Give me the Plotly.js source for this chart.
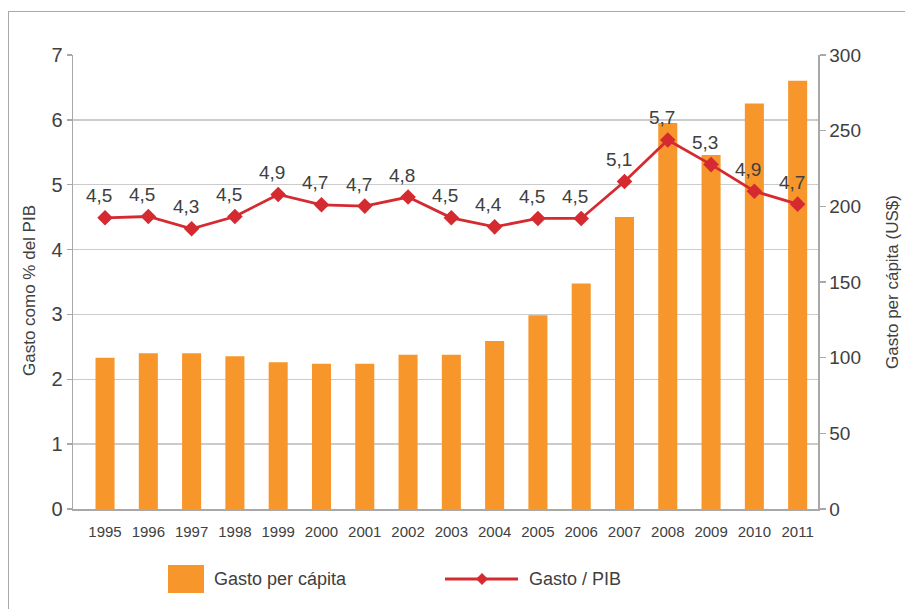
<!DOCTYPE html>
<html>
<head>
<meta charset="utf-8">
<script src="https://cdn.plot.ly/plotly-3.0.1.min.js"></script>
<style>
  html, body { margin: 0; padding: 0; background: #fff; }
  #wrap { position: relative; width: 905px; height: 609px; overflow: hidden; }
  #chart { width: 905px; height: 609px; }
  #frame { position: absolute; left: 8px; top: 11px; width: 1000px; height: 700px;
           border-left: 1.5px solid #a8a8a8; border-top: 1.5px solid #a8a8a8; pointer-events: none; }
</style>
</head>
<body>
<div id="wrap">
  <div id="chart"></div>
  <div id="frame"></div>
</div>
<script>
const years = ['1995','1996','1997','1998','1999','2000','2001','2002','2003','2004','2005','2006','2007','2008','2009','2010','2011'];
const gastoPerCapita = [100, 103, 103, 101, 97, 96, 96, 102, 102, 111, 128, 149, 193, 255, 234, 268, 283];
const gastoPIB = [4.49, 4.51, 4.32, 4.51, 4.85, 4.69, 4.67, 4.81, 4.49, 4.35, 4.48, 4.48, 5.05, 5.69, 5.31, 4.90, 4.70];
const gastoPIBLabels = ['4,5','4,5','4,3','4,5','4,9','4,7','4,7','4,8','4,5','4,4','4,5','4,5','5,1','5,7','5,3','4,9','4,7'];
const leftTicks = [0, 1, 2, 3, 4, 5, 6, 7];
const rightTicks = [0, 50, 100, 150, 200, 250, 300];
const seriesNames = ['Gasto per cápita', 'Gasto / PIB'];
const axisTitles = ['Gasto como % del PIB', 'Gasto per cápita (US$)'];

const ORANGE = '#f7962a';
const RED = '#d42a30';
const TXT = '#404040';
const FONT = 'Liberation Sans, Arial, Helvetica, sans-serif';

const W = 905, H = 609;
const M = {l: 73, r: 87, t: 55, b: 100};
const pw = W - M.l - M.r, ph = H - M.t - M.b;
const px = x => (x - M.l) / pw;
const py = y => (H - M.b - y) / ph;

const traces = [
  {
    type: 'bar', name: seriesNames[0], x: years, y: gastoPerCapita,
    yaxis: 'y', width: 0.44, marker: {color: ORANGE}, showlegend: false, hoverinfo: 'x+y'
  },
  {
    type: 'scatter', mode: 'lines+markers', name: seriesNames[1], x: years, y: gastoPIB,
    yaxis: 'y2', line: {color: RED, width: 2.8},
    marker: {symbol: 'diamond', size: 12, color: RED}, showlegend: false
  }
];

// data labels: x given as category index so the category axis places them
const annotations = years.map((yr, i) => ({
  x: i, y: gastoPIB[i], xref: 'x', yref: 'y2', text: gastoPIBLabels[i],
  showarrow: false, xshift: -6, yshift: 22, yanchor: 'middle', xanchor: 'center',
  font: {family: FONT, size: 19, color: TXT}
}));

// left axis title
annotations.push({
  xref: 'paper', yref: 'paper', x: px(29), y: py(291), textangle: -90,
  xanchor: 'center', yanchor: 'middle', showarrow: false, text: axisTitles[0],
  font: {family: FONT, size: 17, color: TXT}
});

// manual legend
annotations.push(
  {xref: 'paper', yref: 'paper', x: px(212), y: py(579), xanchor: 'left', yanchor: 'middle',
   text: seriesNames[0], showarrow: false, font: {family: FONT, size: 18, color: TXT}},
  {xref: 'paper', yref: 'paper', x: px(527), y: py(579), xanchor: 'left', yanchor: 'middle',
   text: seriesNames[1], showarrow: false, font: {family: FONT, size: 18, color: TXT}}
);

const shapes = [
  {type: 'rect', xref: 'paper', yref: 'paper', x0: px(168), x1: px(204), y0: py(593), y1: py(565),
   fillcolor: ORANGE, line: {width: 0}},
  {type: 'line', xref: 'paper', yref: 'paper', x0: px(445), x1: px(518), y0: py(579), y1: py(579),
   line: {color: RED, width: 2.8}},
  {type: 'path', xref: 'paper', yref: 'paper',
   path: `M ${px(482)} ${py(573)} L ${px(488)} ${py(579)} L ${px(482)} ${py(585)} L ${px(476)} ${py(579)} Z`,
   fillcolor: RED, line: {width: 0}}
];

const layout = {
  width: W, height: H,
  margin: M,
  paper_bgcolor: '#fff', plot_bgcolor: '#fff',
  font: {family: FONT, color: TXT},
  showlegend: false,
  xaxis: {
    type: 'category', range: [-0.74, 16.47],
    showline: true, linecolor: '#a8a8a8', linewidth: 2,
    ticks: '', ticklabelstandoff: 8,
    tickfont: {family: FONT, size: 15, color: TXT},
    showgrid: false, zeroline: false
  },
  yaxis: {
    side: 'right', range: [0, 300], tickvals: rightTicks,
    showline: true, linecolor: '#a8a8a8', linewidth: 1.5,
    ticks: 'outside', ticklen: 6, tickcolor: '#a8a8a8', tickwidth: 1.5,
    tickfont: {family: FONT, size: 19, color: TXT},
    showgrid: false, zeroline: false,
    title: {text: axisTitles[1], font: {family: FONT, size: 17, color: TXT}, standoff: 26}
  },
  yaxis2: {
    overlaying: 'y', side: 'left', range: [0, 7], tickvals: leftTicks,
    showline: true, linecolor: '#a8a8a8', linewidth: 1.5,
    ticks: 'outside', ticklen: 5, tickcolor: '#a8a8a8', tickwidth: 1.5,
    tickfont: {family: FONT, size: 20, color: TXT},
    showgrid: true, gridcolor: '#cbcbcb', gridwidth: 1.5, zeroline: false
  },
  annotations: annotations,
  shapes: shapes
};

Plotly.newPlot('chart', traces, layout, {displayModeBar: false, staticPlot: true});
</script>
</body>
</html>
